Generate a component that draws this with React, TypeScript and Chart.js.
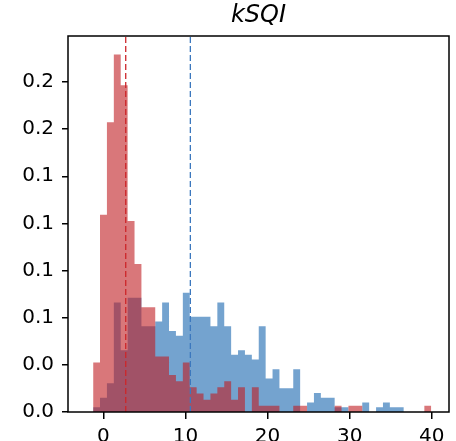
import { useEffect, useRef } from "react";
import { Chart, registerables } from "chart.js";

Chart.register(...registerables);

// Histogram bins shared by both distributions
const BIN_START = -1.24;
const BIN_WIDTH = 0.8404;

// Normalised (density) histogram heights per bin
const RED_DENSITY = [
  0.0262, 0.1046, 0.1536, 0.1896, 0.1733, 0.1013, 0.0785, 0.0556, 0.0556, 0.0294,
  0.0294, 0.0196, 0.0163, 0.0262, 0.0131, 0.0098, 0.0065, 0.0098, 0.0131, 0.0163,
  0.0065, 0.0131, 0, 0.0131, 0.0033, 0.0033, 0.0033, 0, 0, 0.0033,
  0.0033, 0, 0, 0, 0, 0.0033, 0, 0.0033, 0.0033, 0,
  0, 0, 0, 0, 0, 0, 0, 0, 0.0033,
];
const BLUE_DENSITY = [
  0.0025, 0.0076, 0.0152, 0.0581, 0.0328, 0.0606, 0.0606, 0.0455, 0.0455, 0.048,
  0.0581, 0.0429, 0.0404, 0.0632, 0.0505, 0.0505, 0.0505, 0.0455, 0.0581, 0.0455,
  0.0303, 0.0328, 0.0303, 0.0278, 0.0455, 0.0177, 0.0227, 0.0126, 0.0126, 0.0227,
  0, 0.0051, 0.0101, 0.0076, 0.0076, 0.0025, 0.0025, 0, 0, 0.0051,
  0, 0.0025, 0.0051, 0.0025, 0.0025, 0, 0, 0, 0,
];

// Mean markers
const RED_MEAN = 2.73;
const BLUE_MEAN = 10.6;

const TITLE = "kSQI";
const X_TICK_LABELS = ["0", "10", "20", "30", "40"];
const Y_TICK_LABELS = ["0.0", "0.0", "0.1", "0.1", "0.1", "0.1", "0.2", "0.2"];

const X_MIN = -4.3;
const X_MAX = 42.1;
const Y_MAX = 0.1994;

const FONT = "DejaVu Sans";

// Step outline of a histogram: one point per left bin edge, plus the closing right edge.
function histogramSteps(heights: number[]) {
  const pts = heights.map((h, i) => ({ x: BIN_START + BIN_WIDTH * i, y: h }));
  pts.push({ x: BIN_START + BIN_WIDTH * heights.length, y: heights[heights.length - 1] });
  return pts;
}

export default function App() {
  const canvasRef = useRef<HTMLCanvasElement>(null);

  useEffect(() => {
    const canvas = canvasRef.current;
    if (!canvas) return;

    const framePlugin = {
      id: "frame",
      afterDatasetsDraw(chart: any) {
        const { ctx, chartArea: a } = chart;
        ctx.save();
        ctx.strokeStyle = "#000";
        ctx.lineWidth = 1.5;
        ctx.strokeRect(a.left, a.top, a.right - a.left, a.bottom - a.top);
        ctx.restore();
      },
    };

    const histStyle = {
      type: "line",
      stepped: "before",
      fill: "origin",
      borderWidth: 0,
      borderColor: "rgba(0,0,0,0)",
      pointRadius: 0,
      tension: 0,
    };

    const chart = new Chart(canvas, {
      type: "line",
      data: {
        datasets: [
          {
            type: "line",
            data: [
              { x: RED_MEAN, y: 0 },
              { x: RED_MEAN, y: Y_MAX },
            ],
            borderColor: "rgb(205,38,42)",
            borderWidth: 1.3,
            borderDash: [6, 3],
            pointRadius: 0,
            fill: false,
            order: 0,
          },
          {
            type: "line",
            data: [
              { x: BLUE_MEAN, y: 0 },
              { x: BLUE_MEAN, y: Y_MAX },
            ],
            borderColor: "rgb(60,120,190)",
            borderWidth: 1.3,
            borderDash: [6, 3],
            pointRadius: 0,
            fill: false,
            order: 0,
          },
          {
            ...histStyle,
            data: histogramSteps(RED_DENSITY),
            backgroundColor: "rgba(192,28,33,0.6)",
            order: 1,
          },
          {
            ...histStyle,
            data: histogramSteps(BLUE_DENSITY),
            backgroundColor: "rgba(23,102,175,0.6)",
            order: 2,
          },
        ] as any,
      },
      options: {
        responsive: false,
        animation: false,
        devicePixelRatio: 1,
        layout: { padding: { left: 0, right: 7, top: 0, bottom: 0 } },
        plugins: {
          legend: { display: false },
          tooltip: { enabled: false },
          title: {
            display: true,
            text: TITLE,
            fullSize: false,
            color: "#000",
            font: { family: FONT, size: 24, style: "italic", weight: "normal", lineHeight: 1.2 },
            padding: { top: 1.5, bottom: 5.7 },
          },
        },
        scales: {
          x: {
            type: "linear",
            min: X_MIN,
            max: X_MAX,
            offset: false,
            border: { display: false },
            grid: {
              offset: false,
              drawOnChartArea: false,
              drawTicks: true,
              tickLength: 7,
              color: "#000",
              lineWidth: 1.5,
            },
            ticks: {
              stepSize: 10,
              includeBounds: false,
              autoSkip: false,
              maxRotation: 0,
              padding: 6,
              color: "#000",
              font: { family: FONT, size: 20 },
              callback: (_v: any, i: number) => X_TICK_LABELS[i],
            },
            afterFit(scale: any) {
              scale.height = 29;
            },
          },
          y: {
            type: "linear",
            min: 0,
            max: Y_MAX,
            border: { display: false },
            grid: {
              drawOnChartArea: false,
              drawTicks: true,
              tickLength: 6,
              color: "#000",
              lineWidth: 1.5,
            },
            ticks: {
              stepSize: 0.025,
              includeBounds: false,
              autoSkip: false,
              padding: 8,
              color: "#000",
              font: { family: FONT, size: 20 },
              callback: (_v: any, i: number) => Y_TICK_LABELS[i],
            },
            afterFit(scale: any) {
              scale.width = 68;
            },
          },
        },
      } as any,
      plugins: [framePlugin],
    });

    return () => chart.destroy();
  }, []);

  return (
    <canvas
      ref={canvasRef}
      width={456}
      height={441}
      style={{ position: "fixed", left: 0, top: 0, width: 456, height: 441 }}
    />
  );
}
